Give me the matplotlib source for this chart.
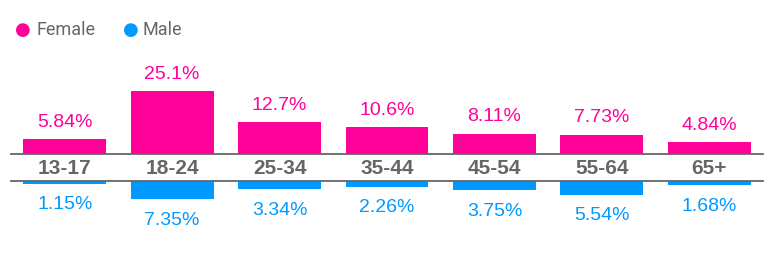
import matplotlib
matplotlib.use('agg')
import matplotlib.pyplot as plt

age_groups = ['13-17', '18-24', '25-34', '35-44', '45-54', '55-64', '65+']
female = [5.84, 25.1, 12.7, 10.6, 8.11, 7.73, 4.84]
male = [1.15, 7.35, 3.34, 2.26, 3.75, 5.54, 1.68]
female_labels = ['5.84%', '25.1%', '12.7%', '10.6%', '8.11%', '7.73%', '4.84%']
male_labels = ['1.15%', '7.35%', '3.34%', '2.26%', '3.75%', '5.54%', '1.68%']

PINK = '#FF0099'
BLUE = '#0099FF'
GRAY = '#666666'

plt.rcParams['font.family'] = ['Liberation Sans', 'DejaVu Sans']

W, H = 777, 270
fig = plt.figure(figsize=(W / 100, H / 100), dpi=100)

left = 11 / W
width = (763 - 11) / W
ymax = 30
px_per = 2.51
ax_h = ymax * px_per / H

# female axes, bottom edge at pixel row 154
ax_f = fig.add_axes([left, (H - 154) / H, width, ax_h])
# male axes, top edge at pixel row 181
ax_m = fig.add_axes([left, (H - 181) / H - ax_h, width, ax_h])

x = list(range(len(age_groups)))
ax_f.bar(x, female, width=0.77, color=PINK)
ax_m.bar(x, male, width=0.77, color=BLUE)

for ax in (ax_f, ax_m):
    ax.set_xlim(-0.5, len(age_groups) - 0.5)
    ax.axis('off')
ax_f.set_ylim(0, ymax)
ax_m.set_ylim(ymax, 0)

ax_f.axhline(0, color=GRAY, lw=1.3, clip_on=False)
ax_m.axhline(0, color=GRAY, lw=1.3, clip_on=False)

for i in x:
    ax_f.annotate(female_labels[i], (i, female[i]), xytext=(0, 12),
                  textcoords='offset points', ha='center', va='center',
                  color=PINK, fontsize=14)
    ax_m.annotate(male_labels[i], (i, male[i]), xytext=(0, -15),
                  textcoords='offset points', ha='center', va='center',
                  color=BLUE, fontsize=14)
    ax_f.annotate(age_groups[i], (i, 0), xytext=(0, -10.5),
                  textcoords='offset points', ha='center', va='center',
                  color=GRAY, fontsize=15, fontweight='bold')

# legend
fig.text(23 / W, 1 - 30 / H, '\u25CF', color=PINK, fontsize=13,
         ha='center', va='center', family='DejaVu Sans')
fig.text(36 / W, 1 - 30 / H, 'Female', color=GRAY, fontsize=13,
         ha='left', va='center', family='Roboto')
fig.text(131 / W, 1 - 30 / H, '\u25CF', color=BLUE, fontsize=13,
         ha='center', va='center', family='DejaVu Sans')
fig.text(143 / W, 1 - 30 / H, 'Male', color=GRAY, fontsize=13,
         ha='left', va='center', family='Roboto')

fig.savefig('out.png', dpi=100)
